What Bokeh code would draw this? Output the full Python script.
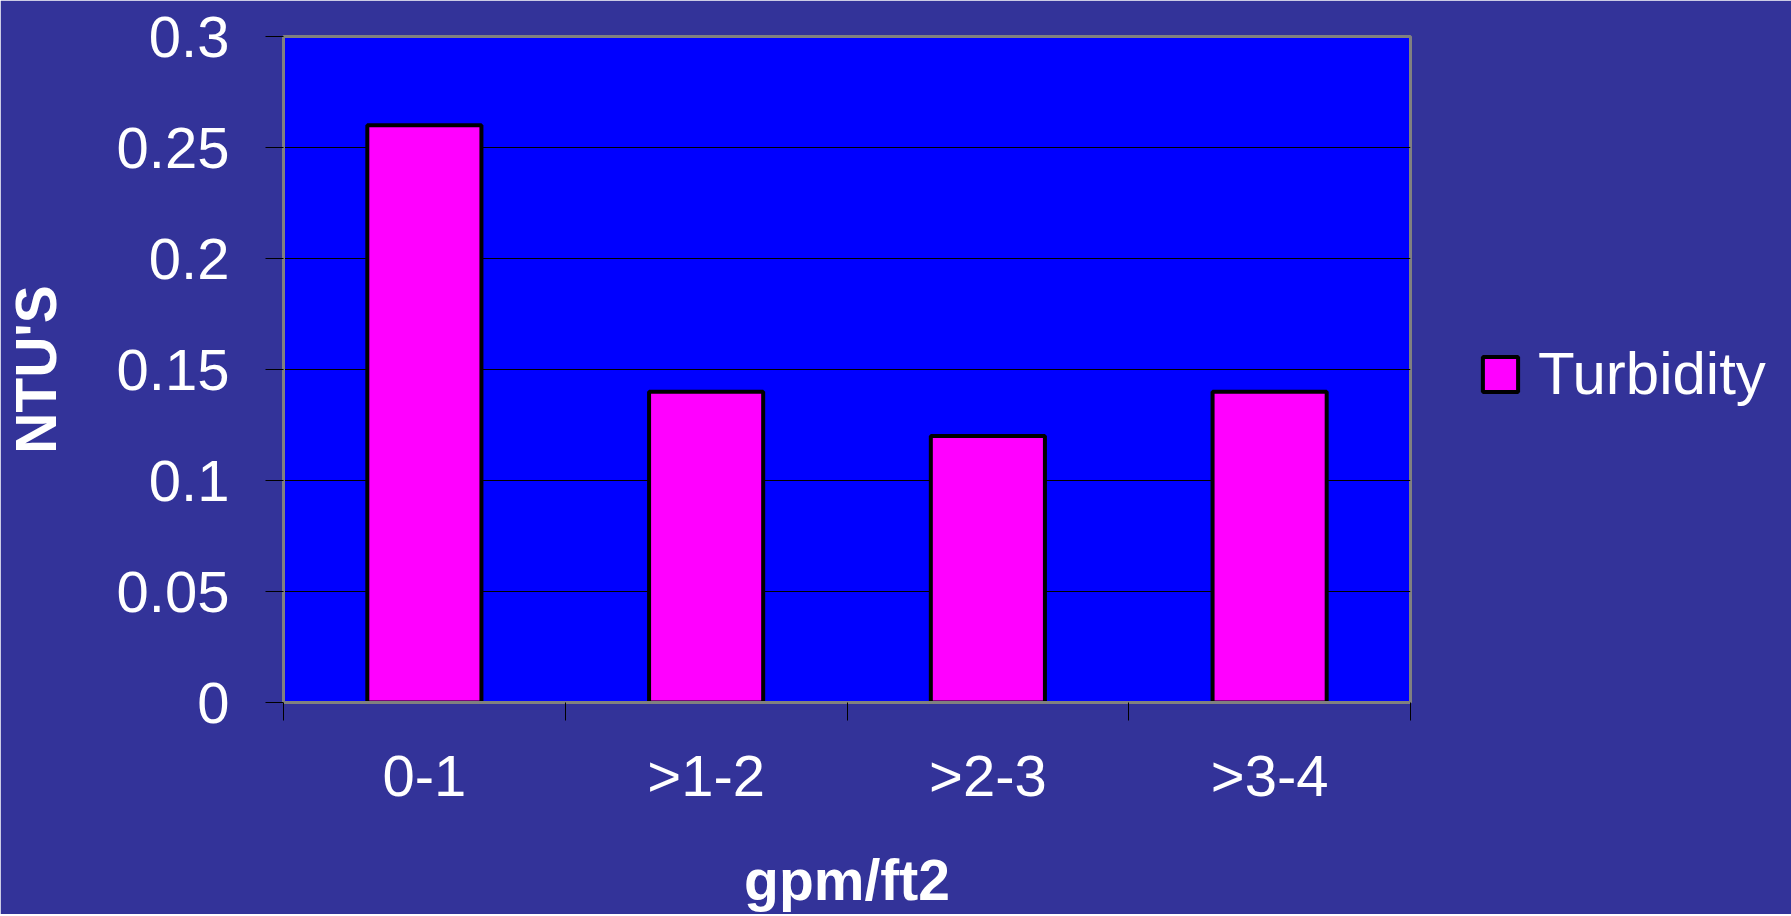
from bokeh.plotting import figure
from bokeh.models import ColumnDataSource, FixedTicker, Range1d, Legend, LegendItem
from bokeh.embed import file_html
from bokeh.resources import INLINE

categories = ["0-1", ">1-2", ">2-3", ">3-4"]
turbidity = [0.26, 0.14, 0.12, 0.14]
y_ticks = [0, 0.05, 0.1, 0.15, 0.2, 0.25, 0.3]
series_name = "Turbidity"
x_title = "gpm/ft2"
y_title = "NTU'S"

BG = "#333399"
FONT = "Liberation Sans"

xs = [i + 0.5 for i in range(len(categories))]
src = ColumnDataSource(dict(x=xs, top=turbidity, cat=categories))

p = figure(frame_width=1127, frame_height=666,
           x_range=Range1d(0, len(categories)), y_range=Range1d(0, 0.3),
           output_backend="svg", toolbar_location=None,
           min_border_left=283, min_border_top=36, min_border_right=372, min_border_bottom=190)
p.background_fill_color = "#0000FF"
p.border_fill_color = BG
p.outline_line_color = "#808080"
p.outline_line_width = 3

r = p.vbar(x="x", top="top", width=0.405, bottom=0, source=src,
           fill_color="#FF00FF", line_color="black", line_width=4)

# x axis
p.xaxis.ticker = FixedTicker(ticks=xs, minor_ticks=list(range(len(categories) + 1)))
p.xaxis.major_label_overrides = {x: c for x, c in zip(xs, categories)}
p.xaxis.major_tick_out = 0
p.xaxis.major_tick_in = 0
p.xaxis.minor_tick_out = 18
p.xaxis.minor_tick_in = 0
p.xaxis.minor_tick_line_color = "black"
p.xaxis.minor_tick_line_width = 1
p.xaxis.major_label_standoff = 22
p.xaxis.axis_label = x_title
p.xaxis.axis_label_standoff = 37

# y axis
p.yaxis.ticker = FixedTicker(ticks=y_ticks, minor_ticks=[])
p.yaxis.major_label_overrides = {t: f"{t:g}" for t in y_ticks}
p.yaxis.major_tick_out = 18
p.yaxis.major_tick_in = 0
p.yaxis.major_tick_line_color = "black"
p.yaxis.major_tick_line_width = 1
p.yaxis.major_label_standoff = 36
p.yaxis.axis_label = y_title
p.yaxis.axis_label_standoff = 46

for ax in (p.xaxis, p.yaxis):
    ax.axis_line_color = "#808080"
    ax.axis_line_width = 3
    ax.major_label_text_color = "white"
    ax.major_label_text_font = FONT
    ax.major_label_text_font_size = "58px"
    ax.axis_label_text_color = "white"
    ax.axis_label_text_font = FONT
    ax.axis_label_text_font_size = "57px"
    ax.axis_label_text_font_style = "bold"

p.xgrid.grid_line_color = None
p.ygrid.grid_line_color = "black"
p.ygrid.grid_line_width = 1
p.ygrid.ticker = FixedTicker(ticks=y_ticks)

legend = Legend(items=[LegendItem(label=series_name, renderers=[r])],
                location=(68, 294), margin=0, padding=0,
                border_line_color=None, background_fill_alpha=0,
                glyph_width=44, glyph_height=44, label_standoff=16,
                label_text_color="white", label_text_font=FONT,
                label_text_font_size="60px")
p.add_layout(legend, "right")

open("out.html", "w").write(file_html(p, INLINE))
